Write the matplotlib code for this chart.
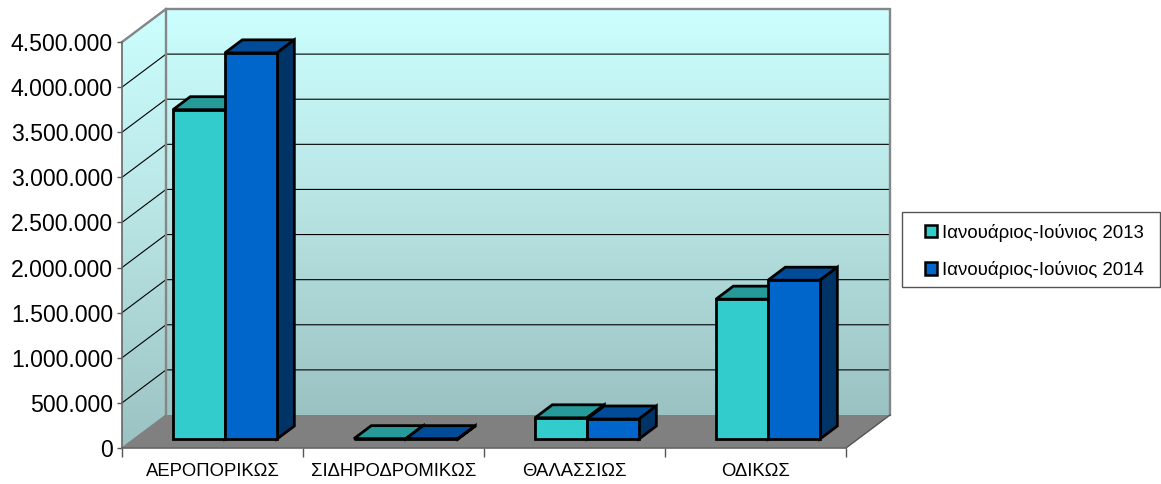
import numpy as np
import matplotlib
matplotlib.use("Agg")
import matplotlib.pyplot as plt
from matplotlib.patches import Polygon, Patch, Rectangle
from matplotlib.colors import LinearSegmentedColormap

plt.rcParams['font.family'] = ['Liberation Sans', 'DejaVu Sans']

categories = ["ΑΕΡΟΠΟΡΙΚΩΣ", "ΣΙΔΗΡΟΔΡΟΜΙΚΩΣ", "ΘΑΛΑΣΣΙΩΣ", "ΟΔΙΚΩΣ"]
series_names = ["Ιανουάριος-Ιούνιος 2013", "Ιανουάριος-Ιούνιος 2014"]
values_2013 = [3650000, 4000, 235000, 1550000]
values_2014 = [4280000, 4000, 222000, 1760000]
y_ticks = [0, 500000, 1000000, 1500000, 2000000, 2500000, 3000000, 3500000, 4000000, 4500000]
y_labels = ["0", "500.000", "1.000.000", "1.500.000", "2.000.000", "2.500.000",
            "3.000.000", "3.500.000", "4.000.000", "4.500.000"]

W, H = 1161, 484
fig = plt.figure(figsize=(W / 100, H / 100), dpi=100, facecolor="white")
L, R, B, T = 122, 846, 448, 42
ax = fig.add_axes([L / W, 1 - B / H, (R - L) / W, (B - T) / H])
ymax = 4500000
ax.set_xlim(0, 4)
ax.set_ylim(0, ymax)
ax.patch.set_visible(False)

# Oblique depth: t=0 front plane, t=1 back wall
DX = 44 / ((R - L) / 4)
DY = 33 / ((B - T) / ymax)


def pr(x, y, t):
    return (x + t * DX, y + t * DY)


cmap = LinearSegmentedColormap.from_list("wall", ["#CCFFFF", "#B8E3E3", "#9BC2C2"])
grad = np.linspace(0, 1, 256).reshape(-1, 1)


def gradient_poly(pts, z):
    poly = Polygon(pts, closed=True, transform=ax.transData, facecolor="none", edgecolor="none")
    ax.add_patch(poly)
    poly.set_clip_on(False)
    xs = [p[0] for p in pts]
    ys = [p[1] for p in pts]
    im = ax.imshow(grad, cmap=cmap, aspect="auto", zorder=z, origin="upper",
                   extent=(min(xs), max(xs), min(ys), max(ys)), interpolation="bilinear")
    im.set_clip_box(fig.bbox)
    im.set_clip_path(poly)


back = [pr(0, 0, 1), pr(4, 0, 1), pr(4, ymax, 1), pr(0, ymax, 1)]
side = [pr(0, 0, 0), pr(0, 0, 1), pr(0, ymax, 1), pr(0, ymax, 0)]
floor = [pr(0, 0, 0), pr(4, 0, 0), pr(4, 0, 1), pr(0, 0, 1)]
gradient_poly(back, 1)
gradient_poly(side, 1)
ax.set_xlim(0, 4)
ax.set_ylim(0, ymax)
ax.add_patch(Polygon(floor, closed=True, facecolor="#808080", edgecolor="none", zorder=2, clip_on=False))

for v in y_ticks[1:]:
    ax.plot(*zip(pr(0, v, 0), pr(0, v, 1), pr(4, v, 1)), color="black", lw=0.8, zorder=3,
            clip_on=False, solid_joinstyle="miter")
# Wall outlines
wall_col = "#868686"
ax.plot(*zip(pr(0, 0, 1), pr(0, ymax, 1), pr(4, ymax, 1), pr(4, 0, 1)), color=wall_col, lw=1.7,
        zorder=4, clip_on=False, solid_joinstyle="miter")
ax.plot(*zip(pr(0, ymax, 0), pr(0, ymax, 1)), color=wall_col, lw=1.7, zorder=4, clip_on=False)
ax.plot(*zip(pr(0, 0, 0), pr(0, 0, 1)), color="#808080", lw=1, zorder=4, clip_on=False)
ax.plot(*zip(pr(4, 0, 0), pr(4, 0, 1)), color="#555555", lw=1, zorder=4, clip_on=False)

# Bars
bar_w = 52 / ((R - L) / 4)
pad = 39 / ((R - L) / 4)
t0, t1 = 9 / 33, 22 / 33
styles = [("#33CCCC", "#269999", "#1A6666"), ("#0066CC", "#004C99", "#003366")]
lw = 2.0
z = 5
for i in range(len(categories)):
    for s, vals in enumerate([values_2013, values_2014]):
        xl = i + pad + s * bar_w
        xr = xl + bar_w
        v = vals[i]
        front_col, top_col, side_col = styles[s]
        faces = [
            ([pr(xl, v, t0), pr(xr, v, t0), pr(xr, v, t1), pr(xl, v, t1)], top_col),
            ([pr(xr, 0, t0), pr(xr, 0, t1), pr(xr, v, t1), pr(xr, v, t0)], side_col),
            ([pr(xl, 0, t0), pr(xr, 0, t0), pr(xr, v, t0), pr(xl, v, t0)], front_col),
        ]
        for pts, col in faces:
            ax.add_patch(Polygon(pts, closed=True, facecolor=col, edgecolor="black", lw=lw,
                                 zorder=z, clip_on=False, joinstyle="miter"))
            z += 0.01

# Axes
for sp in ("top", "right"):
    ax.spines[sp].set_visible(False)
ax.spines["left"].set_color("#666666")
ax.spines["bottom"].set_color("#666666")
ax.spines["left"].set_linewidth(1.2)
ax.spines["bottom"].set_linewidth(1.2)
ax.spines["left"].set_zorder(4)
ax.spines["bottom"].set_zorder(4)
ax.set_yticks(y_ticks, y_labels)
ax.tick_params(axis="y", length=3.5, width=1, color="#555555", labelsize=16.6, pad=3)
ax.set_xticks(range(5), [""] * 5)
ax.tick_params(axis="x", which="major", length=6.5, width=1, color="#555555")
ax.set_xticks(np.arange(4) + 0.5, categories, minor=True)
ax.tick_params(axis="x", which="minor", length=0, labelsize=13.3, pad=11)

# Legend frame and entries
fig.add_artist(Rectangle((901.5 / W, 1 - 287 / H), 258.5 / W, 75 / H, transform=fig.transFigure,
                         facecolor="white", edgecolor="#555555", lw=1))
handles = [Patch(facecolor=styles[k][0], edgecolor="black", lw=1.8, label=series_names[k]) for k in range(2)]
leg = fig.legend(handles=handles, loc="upper left", bbox_to_anchor=(924.5 / W, 1 - 223.5 / H),
                 bbox_transform=fig.transFigure, borderaxespad=0, borderpad=0, fontsize=13.4, frameon=False,
                 labelspacing=1.06, handlelength=0.66, handleheight=0.66, handletextpad=0.26)

fig.savefig("out.png", dpi=100)
